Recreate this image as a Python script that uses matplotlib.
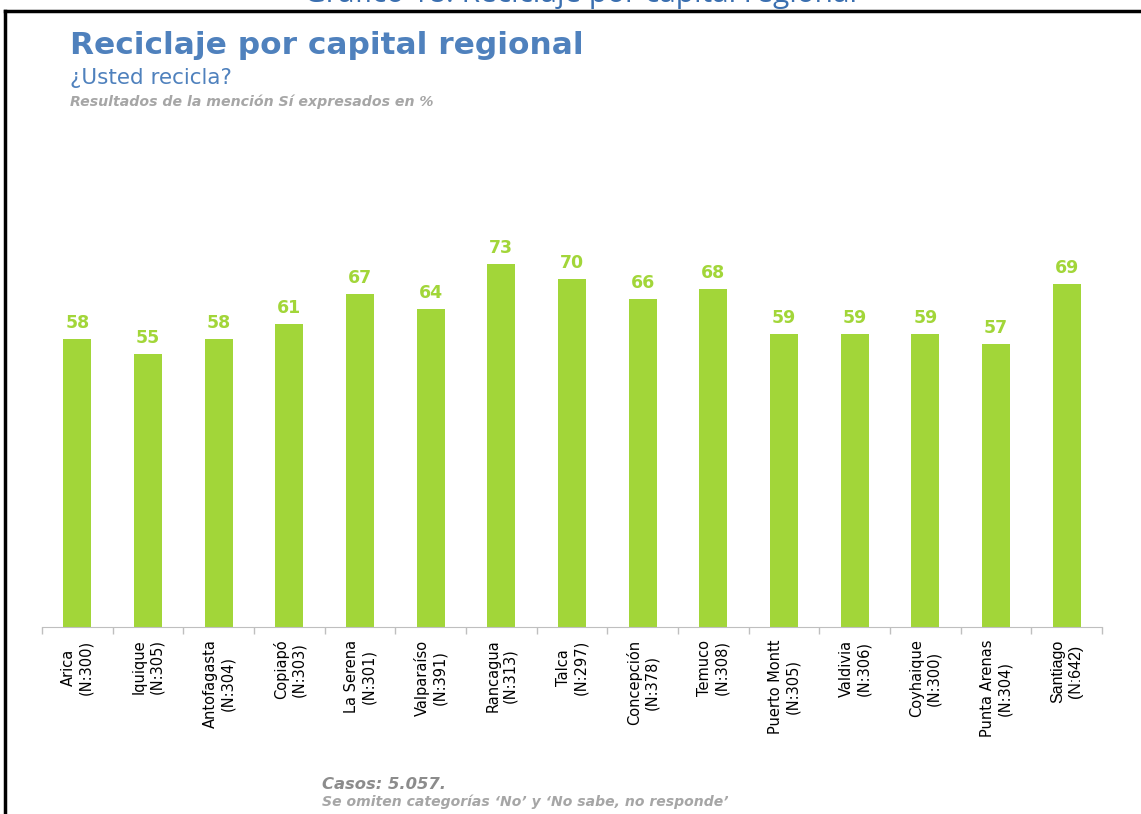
import matplotlib
matplotlib.use("Agg")
import matplotlib.pyplot as plt
from matplotlib.lines import Line2D
import numpy as np

# data
ciudades = ["Arica", "Iquique", "Antofagasta", "Copiapó", "La Serena",
            "Valparaíso", "Rancagua", "Talca", "Concepción", "Temuco",
            "Puerto Montt", "Valdivia", "Coyhaique", "Punta Arenas", "Santiago"]
casos = [300, 305, 304, 303, 301, 391, 313, 297, 378, 308, 305, 306, 300, 304, 642]
porcentaje_si = [58, 55, 58, 61, 67, 64, 73, 70, 66, 68, 59, 59, 59, 57, 69]

titulo = "Reciclaje por capital regional"
pregunta = "¿Usted recicla?"
nota = "Resultados de la mención Sí expresados en %"
pie1 = "Casos: 5.057."
pie2 = "Se omiten categorías ‘No’ y ‘No sabe, no responde’"
rotulo = "Gráfico 18: Reciclaje por capital regional"

verde = "#a2d639"
azul = "#4f81bd"
gris_eje = "#bfbfbf"

W, H = 1141, 814
fig = plt.figure(figsize=(W / 100, H / 100), dpi=100)

ax = fig.add_axes([42 / W, 1 - 627 / H, (1102 - 42) / W, (627 - 130) / H])
x = np.arange(len(ciudades))
ax.bar(x, porcentaje_si, width=0.4, color=verde)
for xi, v in zip(x, porcentaje_si):
    ax.annotate(str(v), (xi, v), xytext=(0, 5), textcoords="offset points",
                ha="center", va="bottom", color=verde, fontsize=12.5,
                fontweight="bold")

ax.set_xlim(-0.5, len(ciudades) - 0.5)
ax.set_ylim(0, 100)
ax.set_yticks([])
for s in ["top", "right", "left"]:
    ax.spines[s].set_visible(False)
ax.spines["bottom"].set_color(gris_eje)

# little ticks between the categories
ax.set_xticks(np.arange(-0.5, len(ciudades)), minor=True)
ax.tick_params(axis="x", which="minor", length=5, color=gris_eje, width=1)
ax.set_xticks(x)
ax.set_xticklabels([f"{c}\n(N:{n})" for c, n in zip(ciudades, casos)],
                   rotation=90, fontsize=10.5, va="top", ha="center",
                   multialignment="center")
ax.tick_params(axis="x", which="major", length=0, pad=9)
ax.get_xticklabels()[-1].set_family("Liberation Sans")
ax.get_xticklabels()[-1].set_fontsize(11.5)

# titles
fig.text(70 / W, 1 - 54 / H, titulo, color=azul, fontsize=22.5,
         fontweight="bold", va="baseline")
fig.text(70 / W, 1 - 84 / H, pregunta, color=azul, fontsize=15.5,
         va="baseline")
fig.text(70 / W, 1 - 106 / H, nota, color="#a6a6a6", fontsize=10.2,
         fontweight="bold", style="italic", va="baseline")

# footer
fig.text(322 / W, 1 - 789 / H, pie1, color="#8c8c8c", fontsize=11.8,
         fontweight="bold", style="italic", va="baseline")
fig.text(322 / W, 1 - 806 / H, pie2, color="#a6a6a6", fontsize=10.1,
         fontweight="bold", style="italic", va="baseline")

# caption cut at top (as in the screenshot) and frame
fig.text(581 / W, 1 - 2 / H, rotulo, color="#3a6fb0", fontsize=21.5,
         ha="center", va="baseline", family="Open Sans")
fig.add_artist(Line2D([5 / W, 1], [1 - 11 / H] * 2, color="black", lw=2.5))
fig.add_artist(Line2D([5 / W] * 2, [0, 1 - 11 / H], color="black", lw=2.5))

fig.savefig("out.png", dpi=100, facecolor="white")
